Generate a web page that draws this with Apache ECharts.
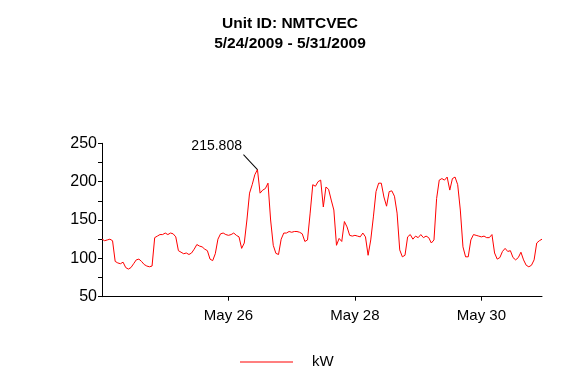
<!DOCTYPE html>
<html>
<head>
<meta charset="utf-8">
<script src="https://cdn.jsdelivr.net/npm/echarts@6/dist/echarts.min.js"></script>
<style>html,body{margin:0;padding:0;background:#fff}#c{width:580px;height:380px}</style>
</head>
<body>
<div id="c"></div>
<script>
var titleLines = ['Unit ID: NMTCVEC', '5/24/2009 - 5/31/2009'];
var seriesName = 'kW';
var startDay = 24; // May 24, 2009 00:00, hourly readings
var monthName = 'May';
var kW = [
 125,123,124,125,123,96,94,93,95,88,86,88,93,98,99,96,92,90,89,90,127,129,131,131,
 133,131,133,132,128,110,108,106,107,105,107,112,118,116,115,112,110,99,97,106,125,132,133,131,
 130,131,133,130,128,113,120,150,185,196,209,215.808,185,189,191,198,150,117,106.5,105,125,133,133,135,
 134,135,135,134,132,122,124,159,196,194,200,202,167,193,190,176,163,117,126,122,148,141,130,129,
 130,129,128,133,128,104,124,154,187,198,198,180,168,187,188,181,159,111,102,104,128,131,125,129,
 127,131,127,129,127,120,124,178,202,204,202,206,189,204,206,196,163,115,102,102,124,131,130,129,
 128,129,127,127,131,107,99,101,109,113,109,110,101,98,101,108,98,91,89,91,98,120,123,125
];
var yTicks = [50, 100, 150, 200, 250];
var xTickDays = [26, 28, 30];

var categories = [];
for (var i = 0; i < kW.length; i++) {
  var d = startDay + Math.floor(i / 24);
  categories.push(monthName + ' ' + d + ' ' + (i % 24) + ':00');
}
function isTick(idx) {
  var h = idx % 24, d = startDay + Math.floor(idx / 24);
  return h === 0 && xTickDays.indexOf(d) >= 0;
}

var chart = echarts.init(document.getElementById('c'), null, {renderer: 'canvas'});
chart.setOption({
  animation: false,
  backgroundColor: '#fff',
  textStyle: {fontFamily: 'Liberation Sans, Arial, sans-serif'},
  title: {
    text: titleLines.join('\n'),
    left: 'center',
    top: 14,
    padding: 0,
    textStyle: {fontSize: 15.5, fontWeight: 'bold', color: '#000', lineHeight: 20, fontFamily: 'Liberation Sans, Arial, sans-serif'}
  },
  legend: {
    data: [seriesName],
    left: 240,
    top: 354.5,
    padding: 0,
    icon: 'rect',
    itemWidth: 53,
    itemHeight: 1,
    itemStyle: {color: '#ff0000'},
    textStyle: {fontSize: 15, color: '#000', padding: [0, 0, 0, 14], fontFamily: 'Liberation Sans, Arial, sans-serif'}
  },
  grid: {left: 102, right: 38, top: 143.3, bottom: 83.3, containLabel: false},
  xAxis: {
    type: 'category',
    data: categories,
    boundaryGap: false,
    axisLine: {lineStyle: {color: '#000', width: 1}},
    axisTick: {show: true, length: 4, interval: function (idx) { return isTick(idx); }, lineStyle: {color: '#000'}},
    axisLabel: {
      interval: function (idx) { return isTick(idx); },
      formatter: function (v) { var p = v.split(' '); return p[0] + ' ' + p[1]; },
      color: '#000', fontSize: 15, margin: 12
    },
    splitLine: {show: false}
  },
  yAxis: {
    type: 'value',
    min: yTicks[0],
    max: yTicks[yTicks.length - 1],
    interval: 25,
    axisLine: {show: true, lineStyle: {color: '#000', width: 1}},
    axisTick: {show: true, length: 4, lineStyle: {color: '#000'}},
    axisLabel: {
      color: '#000', fontSize: 16, margin: 5,
      formatter: function (v) { return yTicks.indexOf(v) >= 0 ? String(v) : ''; }
    },
    splitLine: {show: false}
  },
  series: [{
    name: seriesName,
    type: 'line',
    data: kW,
    symbol: 'none',
    lineStyle: {color: '#ff0000', width: 1},
    itemStyle: {color: '#ff0000'},
    markPoint: {
      silent: true,
      symbol: 'path://M0,0L14,15',
      symbolSize: [14, 15],
      symbolOffset: [-7, -7.5],
      itemStyle: {color: 'transparent', borderColor: '#000', borderWidth: 1},
      label: {
        show: true,
        position: [-1, -8],
        align: 'right',
        verticalAlign: 'middle',
        color: '#000',
        fontSize: 14,
        fontFamily: 'Liberation Sans, Arial, sans-serif',
        formatter: function (p) { return String(p.value); }
      },
      data: [{type: 'max'}]
    }
  }]
});
</script>
</body>
</html>
